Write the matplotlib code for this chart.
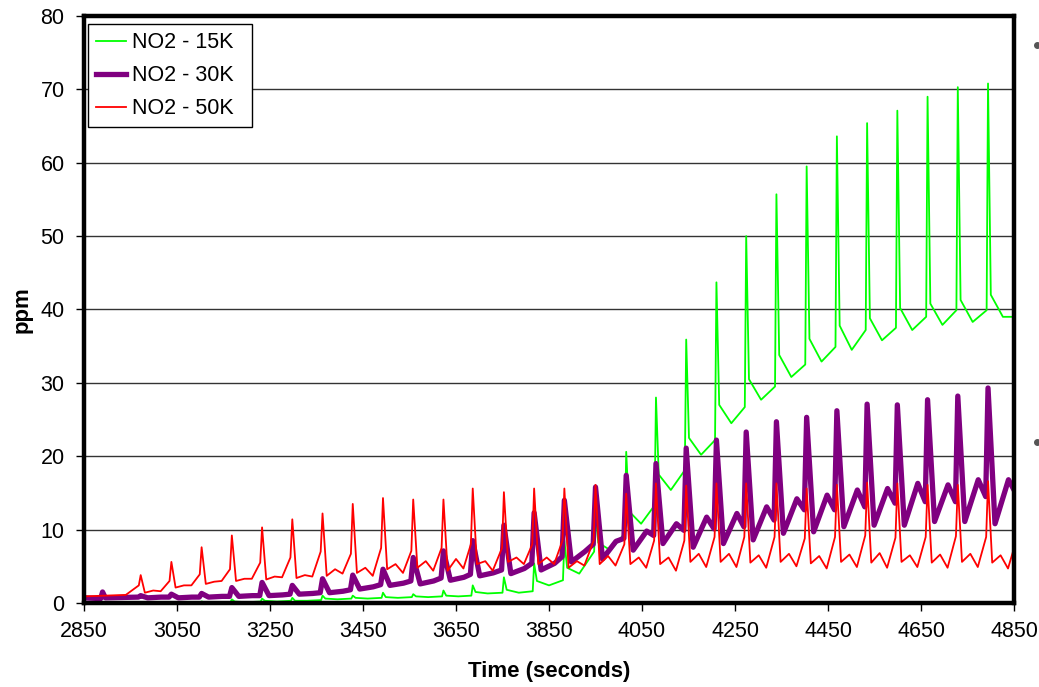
import matplotlib.pyplot as plt
from matplotlib.lines import Line2D

# Tiempos de cada pulso (s)
spike_t = [2972, 3038, 3103, 3168, 3233, 3298, 3363, 3428, 3493, 3558,
           3623, 3686, 3753, 3818, 3883, 3950, 4016, 4080, 4145, 4210,
           4274, 4339, 4404, 4469, 4534, 4599, 4664, 4729, 4794]
t_end = 4850

# NO2 - 15K (ppm)
g_lead_t = [2850]
g_lead_v = [0.0]
g_pre = [0.0, 0.0, 0.0, 0.1, 0.2, 0.3, 0.4, 0.6, 0.7, 0.8, 0.9, 1.0, 1.4, 1.6, 3.1,
         7.0, 9.5, 13.3, 18.1, 22.2, 26.7, 29.5, 32.5, 34.9, 37.2, 37.5, 39.0, 39.9, 39.9]
g_peak = [0.1, 0.1, 0.2, 0.5, 0.6, 0.7, 1.0, 1.0, 1.4, 1.2, 1.7, 2.4, 3.5, 5.4, 8.5,
          12.0, 20.6, 28.0, 35.9, 43.7, 50.0, 55.7, 59.5, 63.6, 65.4, 67.1, 69.0, 70.3, 70.8]
g_knee = [0.0, 0.0, 0.1, 0.2, 0.3, 0.3, 0.6, 0.7, 0.8, 0.9, 1.0, 1.5, 1.8, 3.0, 4.8,
          8.2, 12.5, 17.5, 22.5, 27.0, 30.5, 33.8, 36.0, 37.8, 38.8, 40.2, 40.8, 41.3, 42.0]
g_trough = [0.0, 0.0, 0.0, 0.1, 0.2, 0.3, 0.5, 0.6, 0.7, 0.8, 0.9, 1.3, 1.4, 2.4, 4.0,
            7.2, 10.8, 15.4, 20.2, 24.5, 27.7, 30.8, 32.9, 34.5, 35.8, 37.2, 37.9, 38.3, 39.0]
g_end = 39.0

# NO2 - 30K (ppm)
p_lead_t = [2850, 2886, 2890, 2896]
p_lead_v = [0.7, 0.6, 1.5, 0.7]
p_pre = [0.8, 0.8, 0.8, 0.9, 1.0, 1.2, 1.4, 1.8, 2.5, 3.0, 3.4, 3.9, 4.5, 5.4, 6.3,
         8.0, 8.8, 9.2, 9.9, 10.1, 10.4, 11.3, 12.7, 12.7, 13.1, 13.6, 13.8, 13.8, 14.5]
p_peak = [1.0, 1.2, 1.3, 2.1, 2.8, 2.4, 3.3, 3.8, 4.6, 6.2, 7.1, 8.5, 10.6, 12.3, 14.0,
          15.8, 17.4, 19.0, 21.1, 22.2, 23.3, 24.7, 25.3, 26.2, 27.1, 27.0, 27.7, 28.2, 29.3]
p_trough = [0.7, 0.7, 0.8, 0.9, 1.0, 1.2, 1.4, 1.9, 2.4, 2.6, 3.1, 3.7, 4.0, 4.5, 5.6,
            6.0, 7.2, 8.1, 7.6, 8.1, 8.6, 9.5, 9.7, 10.4, 10.6, 10.6, 11.1, 11.1, 10.8]
p_hump = [0.8, 0.8, 0.9, 1.0, 1.1, 1.3, 1.6, 2.2, 2.7, 3.0, 3.5, 4.1, 4.7, 5.4, 7.0,
          8.4, 9.8, 10.8, 11.7, 12.2, 13.1, 14.2, 14.7, 15.4, 15.6, 16.3, 16.1, 16.8, 16.8]
p_end = 15.4

# NO2 - 50K (ppm)
r_lead_t = [2850, 2940]
r_lead_v = [0.9, 1.1]
r_pre = [2.4, 3.0, 3.9, 4.6, 5.5, 6.2, 7.0, 6.7, 7.5, 7.1, 7.5, 8.0, 7.5, 8.0, 8.5,
         8.5, 8.0, 8.5, 8.5, 9.0, 9.0, 9.0, 8.8, 9.0, 9.2, 8.9, 9.0, 9.1, 9.0]
r_peak = [3.8, 5.6, 7.6, 9.2, 10.3, 11.4, 12.2, 13.5, 14.3, 14.1, 14.1, 15.6, 15.1, 15.6, 15.6,
          16.1, 14.9, 16.3, 16.0, 16.3, 16.3, 16.3, 15.6, 16.1, 16.4, 16.3, 16.1, 16.1, 16.6]
r_trough = [1.4, 2.1, 2.6, 3.0, 3.2, 3.4, 3.7, 4.1, 4.6, 4.8, 4.4, 5.3, 5.6, 5.3, 4.8,
            5.3, 5.3, 5.3, 5.6, 5.6, 5.5, 5.6, 5.4, 5.6, 5.5, 5.6, 5.5, 5.6, 5.5]
r_bump = [1.7, 2.4, 2.9, 3.3, 3.6, 3.8, 4.6, 4.8, 5.3, 5.7, 6.0, 5.7, 6.2, 6.2, 5.7,
          6.4, 6.2, 6.2, 6.7, 6.7, 6.5, 6.7, 6.4, 6.6, 6.8, 6.5, 6.6, 6.7, 6.5]
r_dip = [1.6, 2.4, 3.0, 3.3, 3.5, 3.6, 4.0, 3.7, 4.1, 4.4, 4.7, 4.4, 5.3, 5.3, 5.1,
         5.1, 4.8, 4.4, 4.9, 4.9, 4.8, 5.0, 4.7, 4.9, 4.8, 4.9, 4.8, 4.9, 4.7]
r_end = 7.5

x_ticks = list(range(2850, 4851, 200))
y_ticks = list(range(0, 81, 10))
labels = ["NO2 - 15K", "NO2 - 30K", "NO2 - 50K"]


# arma la curva: tramo inicial, luego cada ciclo (subida, pico, caida...)
def build_curve(lead_t, lead_v, pre, peak, stages, end_v, rise):
    tt = list(lead_t)
    vv = list(lead_v)
    for k, t0 in enumerate(spike_t):
        tt += [t0 - rise, t0]
        vv += [pre[k], peak[k]]
        for off, vals in stages:
            tt.append(t0 + off)
            vv.append(vals[k])
    tt.append(t_end)
    vv.append(end_v)
    return tt, vv


g_t, g_v = build_curve(g_lead_t, g_lead_v, g_pre, g_peak,
                       [(6, g_knee), (32, g_trough)], g_end, 3)
p_t, p_v = build_curve(p_lead_t, p_lead_v, p_pre, p_peak,
                       [(15, p_trough), (44, p_hump)], p_end, 5)
r_t, r_v = build_curve(r_lead_t, r_lead_v, r_pre, r_peak,
                       [(9, r_trough), (27, r_bump), (43, r_dip)], r_end, 4)

plt.rcParams['font.family'] = ['Liberation Sans', 'DejaVu Sans']

fig = plt.figure(figsize=(10.39, 6.87), dpi=100)
ax = fig.add_axes([0.0808, 0.1223, 0.8952, 0.8544])

ax.plot(g_t, g_v, color='#00ff00', lw=1.3, label=labels[0], zorder=3,
        solid_joinstyle='round')
ax.plot(p_t, p_v, color='#800080', lw=3.8, label=labels[1], zorder=4,
        solid_joinstyle='round')
ax.plot(r_t, r_v, color='#ff0000', lw=1.3, label=labels[2], zorder=5,
        solid_joinstyle='round')

ax.set_xlim(2850, 4850)
ax.set_ylim(0, 80)
ax.set_xticks(x_ticks)
ax.set_yticks(y_ticks)
ax.grid(axis='y', color='#333333', lw=1, zorder=1)
ax.set_axisbelow(True)

for s in ax.spines.values():
    s.set_linewidth(3.2)
    s.set_color('black')
    s.set_zorder(6)

ax.tick_params(direction='out', length=6, width=1, labelsize=15.5, color='black')
ax.tick_params(axis='y', pad=8)
ax.tick_params(axis='x', pad=7)

ax.set_xlabel("Time (seconds)", fontsize=16, fontweight='bold')
ax.xaxis.set_label_coords(0.5, -0.116)
ax.xaxis.label.set_va('center')
ax.set_ylabel("ppm", fontsize=16, fontweight='bold')
ax.yaxis.set_label_coords(-0.066, 0.5)
ax.yaxis.label.set_va('center')

# leyenda con el ancho de la caja fijo
leg = ax.legend(loc='upper left', bbox_to_anchor=(0.0043, 0.5, 0.1763, 0.486),
                mode='expand', borderaxespad=0,
                fontsize=15.5, frameon=True, fancybox=False, framealpha=1,
                edgecolor='black', handlelength=1.4, handletextpad=0.25,
                labelspacing=0.55, borderpad=0.38)
leg.get_frame().set_linewidth(1)
leg.set_zorder(7)

# restos de viñetas en el borde derecho
for yy in (45, 442):
    fig.add_artist(Line2D([1037 / 1039], [1 - yy / 687], transform=fig.transFigure,
                          marker='o', markersize=4, color='#555555', lw=0))

fig.savefig("out.png", dpi=100)
